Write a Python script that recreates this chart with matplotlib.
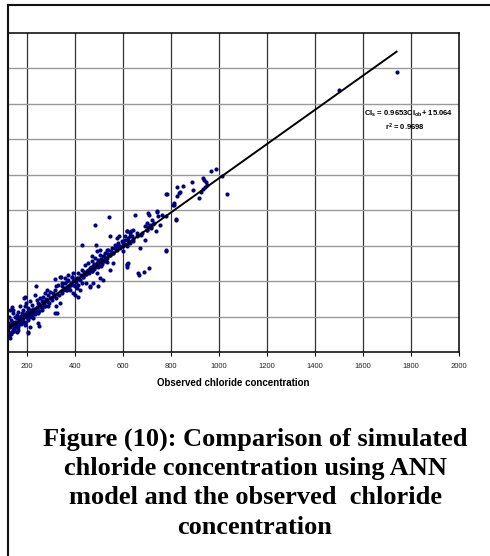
import matplotlib
matplotlib.use("Agg")
import matplotlib.pyplot as plt
from matplotlib.lines import Line2D

plt.rcParams["font.family"] = ["Liberation Sans", "DejaVu Sans"]
plt.rcParams["mathtext.fontset"] = "custom"
plt.rcParams["mathtext.rm"] = "Liberation Sans:bold"
plt.rcParams["mathtext.bf"] = "Liberation Sans:bold"
plt.rcParams["mathtext.default"] = "bf"

# observed vs simulated chloride concentration
observed = [
    129, 136, 143, 125, 133, 150, 157, 164, 171, 178, 184, 191, 189, 198, 205,
    212, 219, 233, 240, 247, 254, 261, 268, 275, 282, 289, 296, 303, 310, 317,
    323, 330, 337, 344, 358, 365, 372, 386, 393, 400, 407, 414, 421, 428, 435,
    379, 393, 351, 337, 323, 317, 289, 275, 247, 205, 191, 164, 150, 136, 122,
    129, 143, 164, 178, 205, 219, 233, 247, 261, 226, 212, 240, 171, 150, 122,
    157, 124, 127, 131, 138, 141, 146, 152, 160, 167, 174, 181, 187, 194, 201,
    208, 215, 222, 229, 236, 243, 123, 126, 130, 135, 140, 145, 148, 155, 162,
    168, 175, 182, 195, 203, 210, 217, 224, 231, 250, 258, 265, 272, 280, 286,
    129, 206, 140, 192,
    140, 148, 156, 163, 170, 177, 185, 192, 199, 207, 214, 221, 228, 235, 242,
    249, 256, 263, 270, 277, 284, 291, 298, 305, 312, 319, 326, 333, 340, 347,
    344, 358, 365, 372, 379, 386, 393, 400, 407, 414, 421, 428, 435, 442, 449,
    456, 463, 469, 476, 483, 490, 497, 504, 511, 518, 525, 532, 539, 546, 553,
    560, 567, 574, 581, 588, 594, 601, 608, 615, 622, 629, 636, 643, 546, 585,
    428, 476, 504, 546, 560, 615, 622, 400, 365, 463, 518, 490, 532, 469, 504,
    490, 664, 615, 632, 574, 542, 483, 488, 494, 462, 411, 446, 317, 340, 324,
    251, 237, 480, 487, 495, 500, 505, 510, 515, 520, 455, 460, 470, 475, 525,
    530, 535, 445, 450, 458, 466, 472, 478, 492, 498, 508, 513,
    355, 362, 369, 376, 383, 390, 397, 404, 411, 418, 425, 432, 439, 446, 453,
    460, 467, 474, 481, 488, 495, 502, 509, 516, 523, 530, 537, 544, 551, 558,
    565, 572, 579, 586, 605, 620, 640, 660, 680, 700, 715,
    650, 710, 740, 744, 761, 720, 699, 692, 705, 712, 718, 725, 700, 730, 674,
    657, 640, 629, 615, 608, 629, 664, 692, 754, 737, 599, 587, 615, 671, 779,
    599, 665, 688, 708, 778, 615, 618, 705, 740, 778, 820, 810, 824, 779, 835,
    824, 849, 837, 886, 893, 935, 939, 946, 949, 942, 935, 925, 917, 965, 986,
    1011, 1032, 812, 782, 821, 812, 1500, 1740,
]
simulated = [
    238, 253, 219, 200, 181, 200, 209, 228, 200, 219, 238, 257, 304, 275, 247,
    285, 266, 323, 294, 275, 304, 285, 313, 332, 351, 323, 341, 313, 332, 351,
    370, 379, 426, 389, 417, 398, 436, 426, 445, 407, 360, 379, 351, 389, 426,
    351, 332, 351, 275, 257, 219, 257, 257, 162, 115, 153, 125, 143, 115, 134,
    153, 162, 162, 181, 181, 209, 228, 219, 238, 191, 143, 247, 257, 172, 162,
    115, 95, 150, 110, 170, 125, 160, 145, 190, 175, 205, 180, 215, 195, 225,
    210, 235, 220, 245, 230, 255, 120, 88, 140, 100, 155, 118, 135, 170, 150,
    185, 165, 170, 215, 190, 230, 205, 240, 222, 270, 255, 290, 265, 300, 280,
    78, 106, 238, 309,
    150, 128, 160, 140, 175, 160, 190, 172, 205, 195, 218, 200, 230, 215, 245,
    232, 260, 248, 275, 262, 290, 278, 305, 292, 318, 305, 330, 320, 345, 335,
    370, 389, 360, 408, 379, 426, 398, 370, 417, 445, 407, 464, 436, 492, 455,
    502, 473, 511, 483, 530, 502, 521, 549, 511, 540, 558, 530, 577, 549, 587,
    558, 606, 577, 615, 587, 624, 596, 634, 606, 643, 615, 653, 624, 653, 653,
    606, 389, 417, 464, 502, 492, 502, 323, 351, 370, 408, 445, 577, 540, 577,
    568, 445, 681, 685, 643, 760, 715, 602, 370, 364, 313, 389, 413, 426, 219,
    149, 375, 470, 485, 478, 495, 505, 488, 512, 520, 450, 462, 455, 470, 515,
    525, 510, 440, 452, 448, 465, 458, 475, 490, 485, 500, 498,
    360, 350, 375, 365, 390, 380, 405, 395, 420, 410, 435, 425, 450, 440, 465,
    455, 480, 470, 495, 485, 510, 500, 525, 515, 540, 530, 555, 545, 570, 560,
    585, 575, 600, 590, 610, 625, 640, 655, 670, 690, 705,
    771, 775, 794, 766, 775, 747, 728, 709, 707, 715, 700, 720, 690, 730, 662,
    672, 690, 672, 681, 653, 653, 662, 634, 719, 681, 615, 596, 596, 587, 573,
    568, 436, 454, 472, 572, 479, 494, 785, 790, 766, 751, 832, 879, 892, 898,
    932, 935, 902, 960, 913, 983, 969, 958, 945, 932, 917, 902, 870, 1020, 1034,
    992, 890, 838, 892, 747, 828, 1477, 1579,
]

slope = 0.9653
intercept = 15.064
fit_x = [121, 1740]
x_ticks = [200, 400, 600, 800, 1000, 1200, 1400, 1600, 1800, 2000]
y_grid = [200, 400, 600, 800, 1000, 1200, 1400, 1600]

fig = plt.figure(figsize=(4.9, 5.56), dpi=100)
W, H = 490, 556
# plot area, left part of the original chart is cropped away
ax = fig.add_axes([8 / W, 1 - 352 / H, 451 / W, 319 / H])
ax.set_xlim(121, 2000)
ax.set_ylim(0, 1800)

for x in x_ticks[:-1]:
    ax.axvline(x, color="#333333", lw=0.9, zorder=1)
for y in y_grid:
    ax.axhline(y, color="#999999", lw=1.0, zorder=1)

ax.scatter(observed, simulated, s=9, color="#000080", linewidths=0, zorder=3)
ax.plot(fit_x, [slope * x + intercept for x in fit_x], color="black", lw=1.4, zorder=4)

ax.text(1975, 1341, r"Cl$_{s}$ = 0.9653Cl$_{ob}$+ 15.064", ha="right", va="center",
        fontsize=5.5, fontweight="bold", zorder=5)
ax.text(1775, 1268, r"r$^{2}$ = 0.9698", ha="center", va="center",
        fontsize=5.5, fontweight="bold", zorder=5)

ax.set_xticks(x_ticks)
ax.set_xticklabels([str(t) for t in x_ticks], fontsize=5.5, color="#222222")
ax.tick_params(axis="x", length=3, width=0.8, pad=5)
ax.set_yticks([])
ax.spines["left"].set_visible(False)
for s in ["top", "right", "bottom"]:
    ax.spines[s].set_linewidth(1.1)
ax.set_xlabel("Observed chloride concentration", fontsize=7, fontweight="bold", labelpad=6)

# outer frame of the figure box
fig.add_artist(Line2D([8 / W, 1], [1 - 5 / H, 1 - 5 / H], color="#111111", lw=1.5,
                      transform=fig.transFigure))
fig.add_artist(Line2D([8 / W, 8 / W], [0, 1 - 5 / H], color="#111111", lw=1.5,
                      transform=fig.transFigure))

fig.text(255 / W, 1 - 483 / H,
         "Figure (10): Comparison of simulated\nchloride concentration using ANN\n"
         "model and the observed  chloride\nconcentration",
         ha="center", va="center", fontsize=19, fontweight="bold",
         family=["Liberation Serif", "DejaVu Serif"], linespacing=1.35)

fig.savefig("out.png", dpi=100)
